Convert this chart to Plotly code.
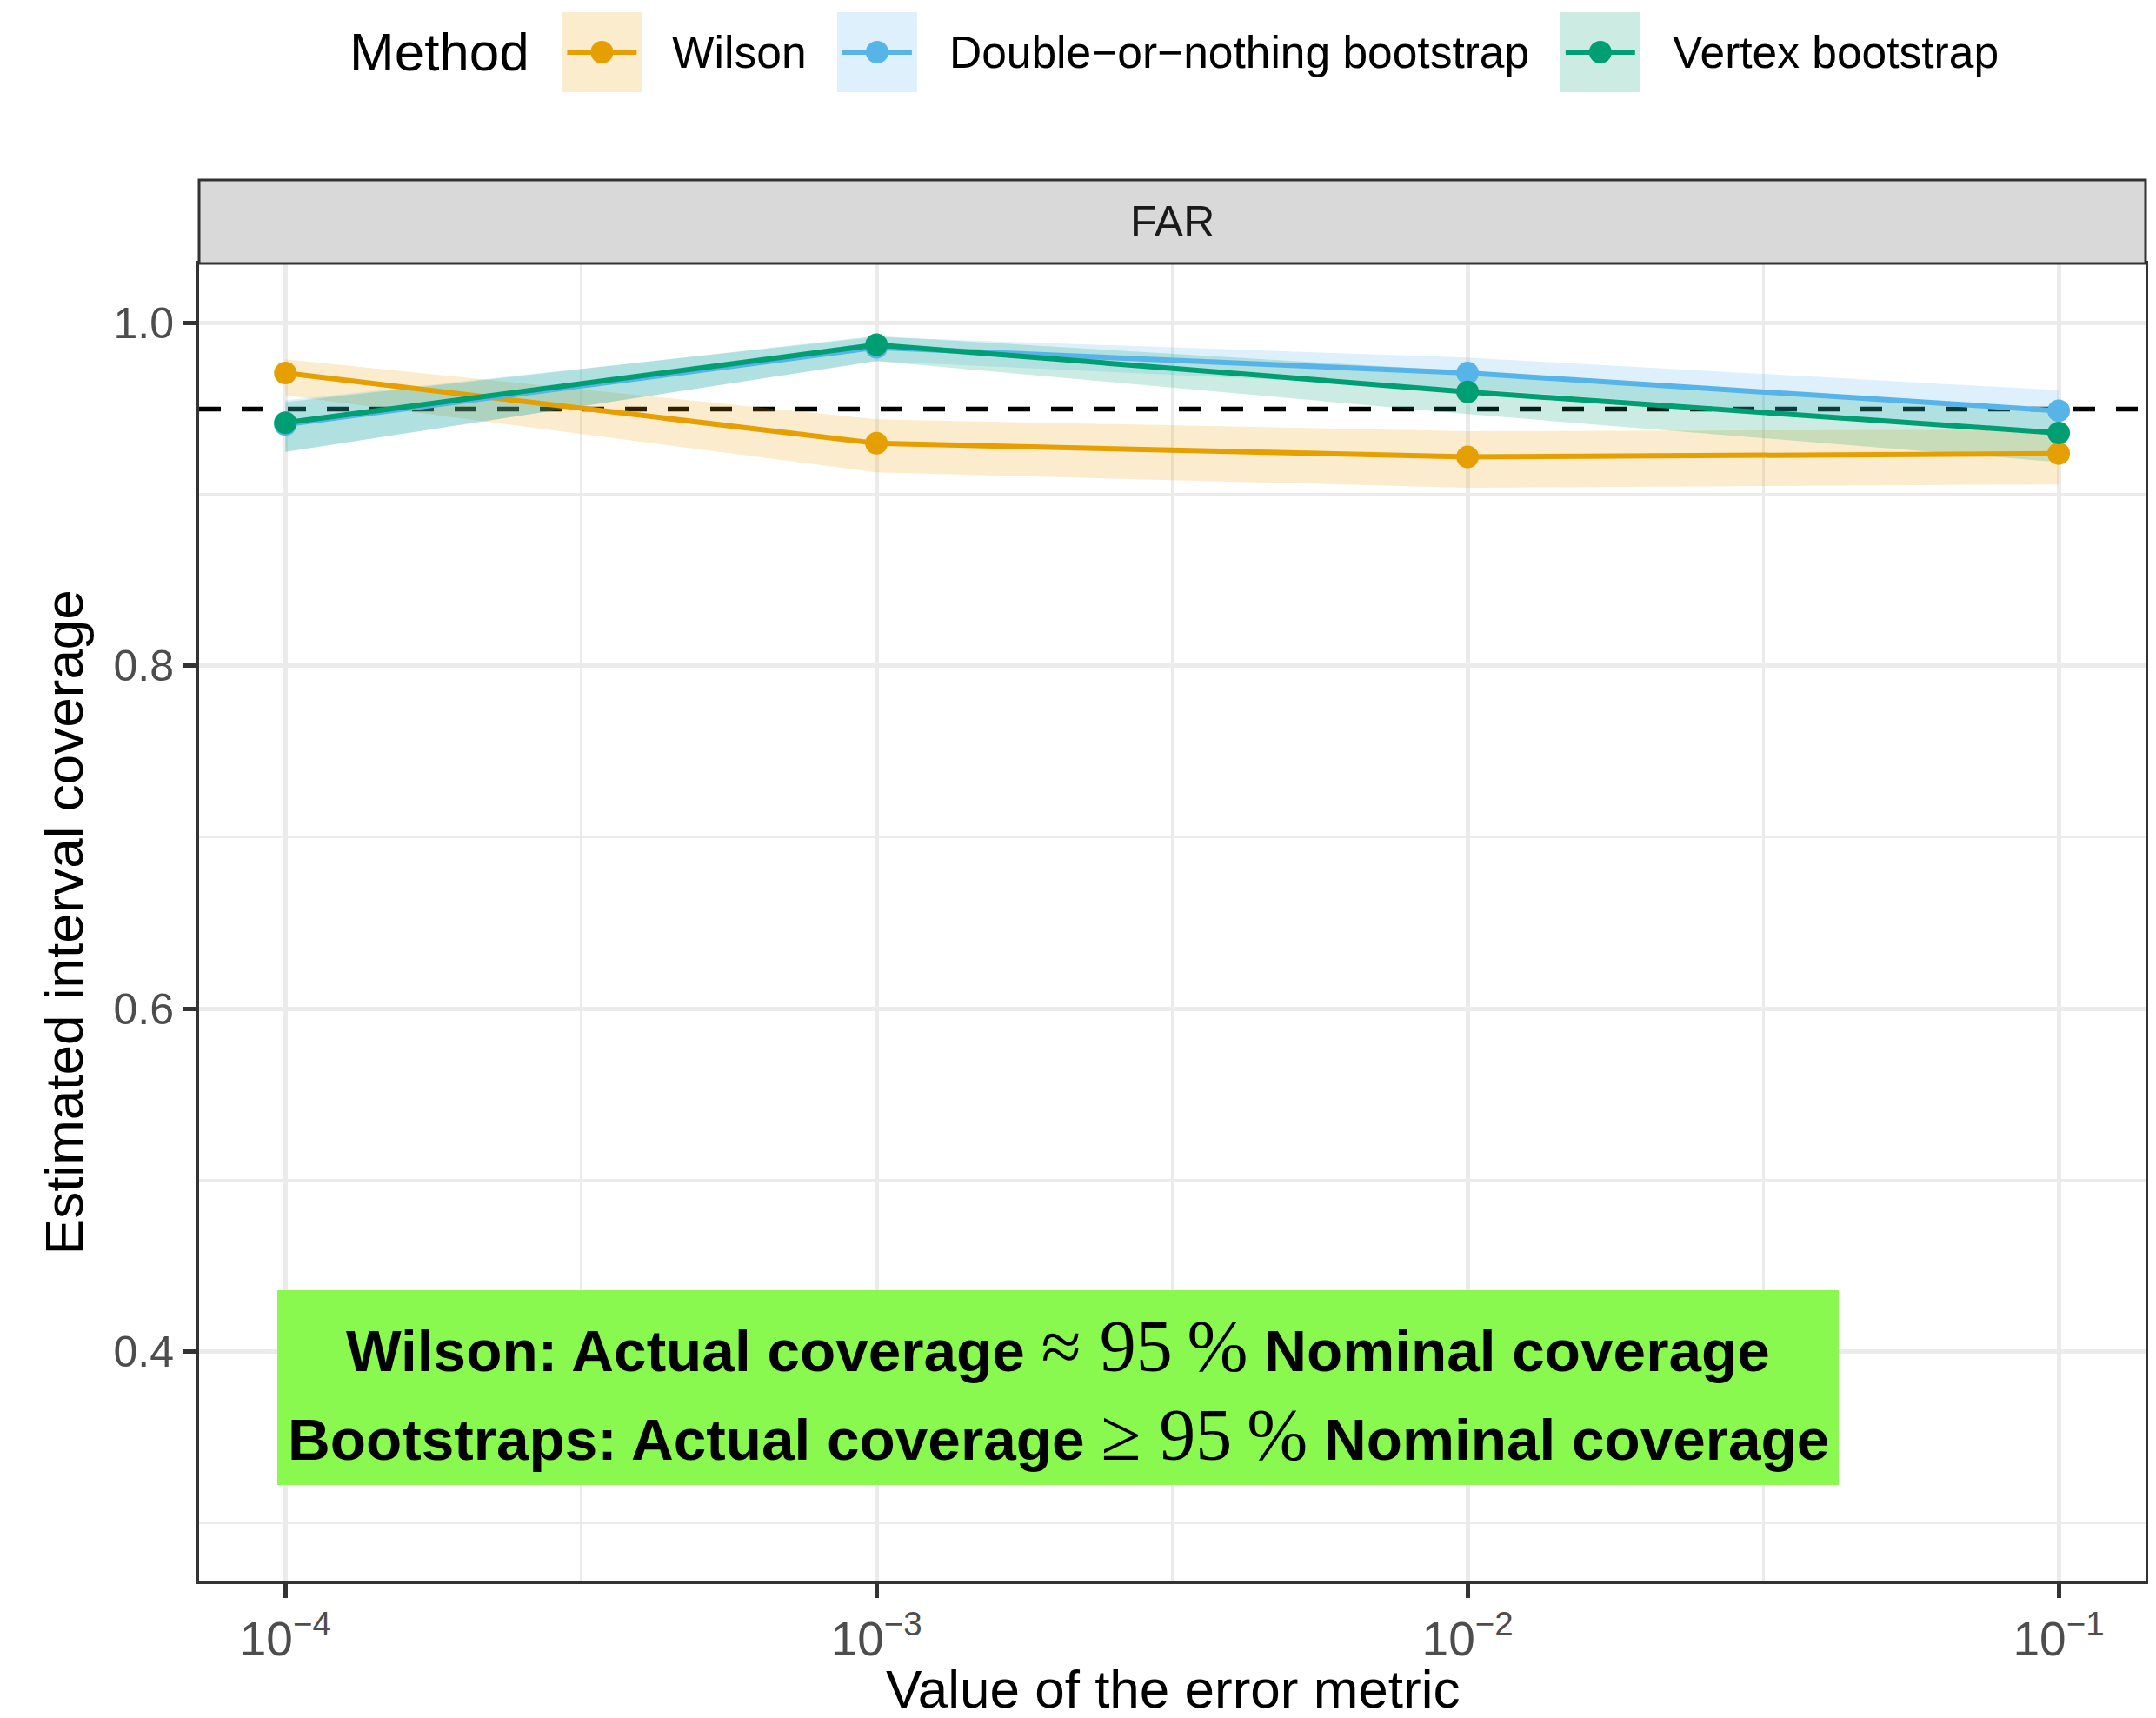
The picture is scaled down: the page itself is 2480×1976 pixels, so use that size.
import numpy as np
import plotly.graph_objects as go

# ---- data -------------------------------------------------------------
error_metric = [1e-4, 1e-3, 1e-2, 1e-1]
x_tick_text = ["10<sup>\u22124</sup>", "10<sup>\u22123</sup>", "10<sup>\u22122</sup>", "10<sup>\u22121</sup>"]

methods = ["Wilson", "Double\u2212or\u2212nothing bootstrap", "Vertex bootstrap"]
method_colors = ["#E69F00", "#56B4E9", "#009E73"]

wilson_cov = [0.971, 0.930, 0.922, 0.924]
wilson_lo = [0.958, 0.913, 0.904, 0.906]
wilson_hi = [0.979, 0.944, 0.937, 0.938]

don_cov = [0.941, 0.986, 0.971, 0.949]
don_lo = [0.925, 0.978, 0.962, 0.937]
don_hi = [0.955, 0.992, 0.980, 0.961]

vertex_cov = [0.942, 0.9875, 0.960, 0.936]
vertex_lo = [0.925, 0.978, 0.947, 0.919]
vertex_hi = [0.954, 0.9926, 0.972, 0.950]

nominal_coverage = 0.95
y_ticks = [0.4, 0.6, 0.8, 1.0]
y_minor = [0.3, 0.5, 0.7, 0.9]
facet_label = "FAR"
legend_title = "Method"
x_title = "Value of the error metric"
y_title = "Estimated interval coverage"
note_lines = [
    "<b>Wilson: Actual coverage</b> <span style=\"font-family:Liberation Serif;font-size:84px\">\u2248 95\u2009%</span> <b>Nominal coverage</b>",
    "<b>Bootstraps: Actual coverage</b> <span style=\"font-family:Liberation Serif;font-size:84px\">\u2265 95\u2009%</span> <b>Nominal coverage</b>",
]
note_x, note_y = 0.00203, 0.3787

series = [
    (wilson_cov, wilson_lo, wilson_hi),
    (don_cov, don_lo, don_hi),
    (vertex_cov, vertex_lo, vertex_hi),
]

# ---- geometry ---------------------------------------------------------
W, H = 2480, 1976
ML, MR, MT, MB = 229, 9, 303, 157
PW, PH = W - ML - MR, H - MT - MB
STRIP_H = 96


def px_x(px):
    return (px - ML) / PW


def px_y(py):
    return (H - MB - py) / PH


def rgba(hex_color, a):
    h = hex_color.lstrip("#")
    r, g, b = int(h[0:2], 16), int(h[2:4], 16), int(h[4:6], 16)
    return f"rgba({r},{g},{b},{a})"


FONT = "Liberation Sans, Arial, Helvetica, sans-serif"

fig = go.Figure()

# confidence ribbons
for (cov, lo, hi), col, name in zip(series, method_colors, methods):
    fig.add_trace(go.Scatter(x=error_metric, y=lo, mode="lines", line=dict(width=0),
                             hoverinfo="skip", showlegend=False))
    fig.add_trace(go.Scatter(x=error_metric, y=hi, mode="lines", line=dict(width=0),
                             fill="tonexty", fillcolor=rgba(col, 0.2),
                             hoverinfo="skip", showlegend=False))

# coverage lines with points
for (cov, lo, hi), col, name in zip(series, method_colors, methods):
    fig.add_trace(go.Scatter(x=error_metric, y=cov, mode="lines+markers", name=name,
                             line=dict(color=col, width=6),
                             marker=dict(color=col, size=26),
                             showlegend=False))

shapes = []
annotations = []

# nominal coverage reference
shapes.append(dict(type="line", xref="paper", x0=0, x1=1, yref="y",
                   y0=nominal_coverage, y1=nominal_coverage,
                   line=dict(color="black", width=5.5, dash="25px,24px"), layer="between"))

# facet strip
shapes.append(dict(type="rect", xref="paper", yref="paper", x0=0, x1=1,
                   y0=1, y1=1 + STRIP_H / PH, fillcolor="#D9D9D9",
                   line=dict(color="#333333", width=3), layer="above"))
annotations.append(dict(text=facet_label, xref="paper", yref="paper", x=0.5,
                        y=1 + STRIP_H / 2 / PH, xanchor="center", yanchor="middle",
                        showarrow=False, font=dict(size=50, color="#1A1A1A", family=FONT)))

# axis titles
annotations.append(dict(text=x_title, xref="paper", yref="paper", x=0.5, y=px_y(1942),
                        xanchor="center", yanchor="middle", showarrow=False,
                        font=dict(size=62, color="black", family=FONT)))
annotations.append(dict(text=y_title, xref="paper", yref="paper", x=px_x(73), y=0.5,
                        xanchor="center", yanchor="middle", textangle=-90, showarrow=False,
                        font=dict(size=62, color="black", family=FONT)))

# legend (top, horizontal)
LEG_CY = 60
annotations.append(dict(text=legend_title, xref="paper", yref="paper", x=px_x(400), y=px_y(LEG_CY),
                        xanchor="left", yanchor="middle", showarrow=False,
                        font=dict(size=62, color="black", family=FONT)))
key_left = [647, 964, 1797]
label_left = [772, 1091, 1924]
KEY = 92
for kl, ll, col, name in zip(key_left, label_left, method_colors, methods):
    shapes.append(dict(type="rect", xref="paper", yref="paper",
                       x0=px_x(kl), x1=px_x(kl + KEY), y0=px_y(LEG_CY + KEY / 2), y1=px_y(LEG_CY - KEY / 2),
                       fillcolor=rgba(col, 0.2), line=dict(width=0), layer="above"))
    cx = kl + KEY / 2
    shapes.append(dict(type="line", xref="paper", yref="paper",
                       x0=px_x(cx - 40), x1=px_x(cx + 40), y0=px_y(LEG_CY), y1=px_y(LEG_CY),
                       line=dict(color=col, width=6), layer="above"))
    shapes.append(dict(type="circle", xref="paper", yref="paper",
                       x0=px_x(cx - 13), x1=px_x(cx + 13), y0=px_y(LEG_CY + 13), y1=px_y(LEG_CY - 13),
                       fillcolor=col, line=dict(width=0), layer="above"))
    annotations.append(dict(text=name, xref="paper", yref="paper", x=px_x(ll), y=px_y(LEG_CY),
                            xanchor="left", yanchor="middle", showarrow=False,
                            font=dict(size=51.5, color="black", family=FONT)))

# highlighted note box
annotations.append(dict(text=" ", x=np.log10(note_x), y=note_y, xref="x", yref="y",
                        width=1796, height=224, bgcolor="#89F94F", borderpad=0, borderwidth=0,
                        showarrow=False, xanchor="center", yanchor="middle"))
for line, shift in zip(note_lines, [47, -55]):
    annotations.append(dict(text=line, x=np.log10(note_x), y=note_y, xref="x", yref="y",
                            yshift=shift, showarrow=False, xanchor="center", yanchor="middle",
                            font=dict(size=67.5, color="black", family=FONT)))

minor_x = [np.sqrt(a * b) for a, b in zip(error_metric[:-1], error_metric[1:])]

fig.update_layout(
    width=W, height=H,
    margin=dict(l=ML, r=MR, t=MT, b=MB, pad=0),
    paper_bgcolor="white", plot_bgcolor="white",
    font=dict(family=FONT),
    showlegend=False,
    shapes=shapes, annotations=annotations,
    xaxis=dict(type="log", range=[-4.146, -0.853],
               tickmode="array", tickvals=error_metric, ticktext=x_tick_text,
               ticks="outside", ticklen=16, tickwidth=5, tickcolor="#333333",
               tickfont=dict(size=55, color="#4D4D4D", family=FONT),
               showline=True, linecolor="#333333", linewidth=3, mirror=True,
               showgrid=True, gridcolor="#EBEBEB", gridwidth=5, zeroline=False,
               minor=dict(tickmode="array", tickvals=minor_x, showgrid=True,
                          gridcolor="#EBEBEB", gridwidth=2.5, ticks="")),
    yaxis=dict(range=[0.2655, 1.035],
               tickmode="array", tickvals=y_ticks, tickformat=".1f",
               ticks="outside", ticklen=16, tickwidth=5, tickcolor="#333333",
               tickfont=dict(size=50, color="#4D4D4D", family=FONT),
               showline=True, linecolor="#333333", linewidth=3, mirror=True,
               showgrid=True, gridcolor="#EBEBEB", gridwidth=5, zeroline=False,
               minor=dict(tickmode="array", tickvals=y_minor, showgrid=True,
                          gridcolor="#EBEBEB", gridwidth=2.5, ticks="")),
)

fig.write_html("out.html")
